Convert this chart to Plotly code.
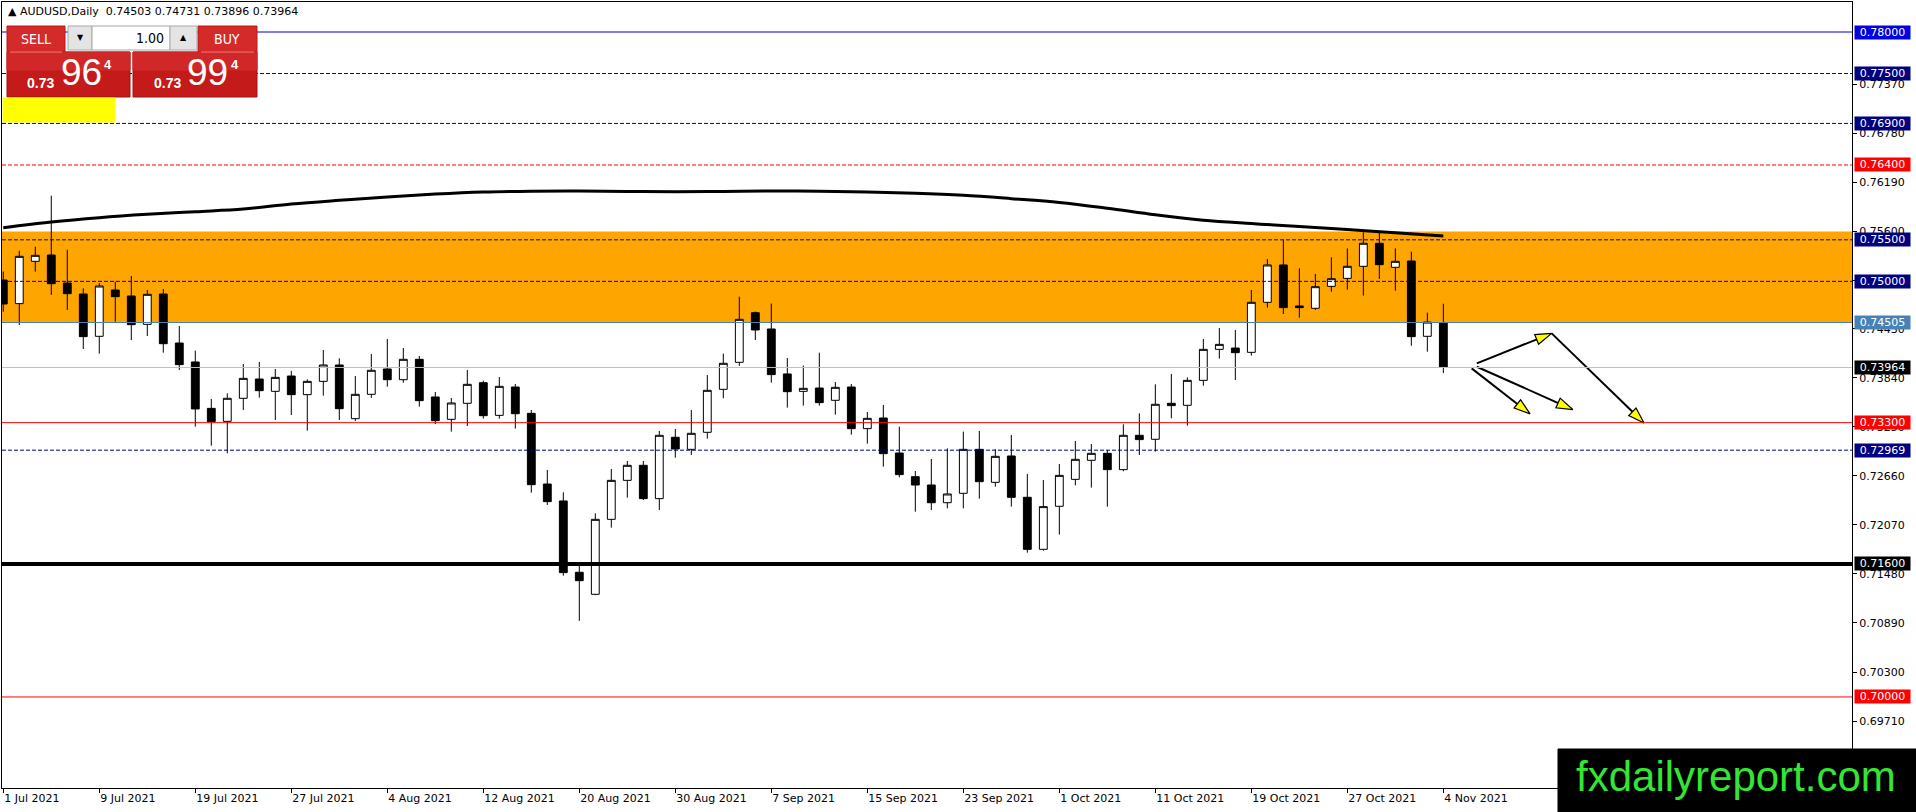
import plotly.graph_objects as go

# AUDUSD daily candles, 1 Jul 2021 .. 4 Nov 2021 (bar index 0..90)
OPEN = [0.75016, 0.74732, 0.75241, 0.75317, 0.74980, 0.74848, 0.74339, 0.74896, 0.74824, 0.74483,
        0.74848, 0.74258, 0.74030, 0.73472, 0.73316, 0.73593, 0.73825, 0.73677, 0.73861, 0.73637,
        0.73797, 0.73994, 0.73348, 0.73641, 0.73946, 0.73817, 0.74062, 0.73609, 0.73340, 0.73533,
        0.73781, 0.73388, 0.73729, 0.73412, 0.72562, 0.72358, 0.71500, 0.71235, 0.72137, 0.72606,
        0.72787, 0.72386, 0.73124, 0.72979, 0.73184, 0.73701, 0.74026, 0.74623, 0.74427, 0.73886,
        0.73677, 0.73717, 0.73569, 0.73729, 0.73228, 0.73356, 0.72935, 0.72650, 0.72550, 0.72337,
        0.72450, 0.72979, 0.72582, 0.72899, 0.72402, 0.71776, 0.72294, 0.72618, 0.72847, 0.72931,
        0.72735, 0.73148, 0.73100, 0.73533, 0.73509, 0.73809, 0.74182, 0.74198, 0.74146, 0.74748,
        0.75197, 0.74704, 0.74676, 0.74940, 0.75036, 0.75181, 0.75458, 0.75169, 0.75245, 0.74339,
        0.74503]
HIGH = [0.75117, 0.75369, 0.75417, 0.76031, 0.75381, 0.74916, 0.74980, 0.74996, 0.75065, 0.74896,
        0.74908, 0.74463, 0.74166, 0.73585, 0.73653, 0.74006, 0.74030, 0.73946, 0.73922, 0.73821,
        0.74174, 0.74074, 0.73861, 0.74126, 0.74307, 0.74198, 0.74102, 0.73669, 0.73597, 0.73934,
        0.73805, 0.73849, 0.73765, 0.73452, 0.72731, 0.72462, 0.71588, 0.72209, 0.72743, 0.72839,
        0.72839, 0.73200, 0.73224, 0.73452, 0.73873, 0.74130, 0.74816, 0.74636, 0.74732, 0.74078,
        0.73986, 0.74142, 0.73789, 0.73765, 0.73428, 0.73513, 0.73252, 0.72718, 0.72863, 0.72991,
        0.73192, 0.73200, 0.72979, 0.73152, 0.72683, 0.72610, 0.72803, 0.73080, 0.73043, 0.72971,
        0.73280, 0.73412, 0.73761, 0.73886, 0.73845, 0.74307, 0.74439, 0.74415, 0.74896, 0.75269,
        0.75506, 0.75157, 0.75089, 0.75289, 0.75397, 0.75590, 0.75590, 0.75397, 0.75357, 0.74624,
        0.74731]
LOW = [0.74635, 0.74475, 0.75117, 0.74836, 0.74656, 0.74186, 0.74130, 0.74515, 0.74295, 0.74343,
       0.74142, 0.73934, 0.73252, 0.73023, 0.72931, 0.73453, 0.73601, 0.73332, 0.73392, 0.73204,
       0.73625, 0.73332, 0.73320, 0.73597, 0.73733, 0.73781, 0.73493, 0.73284, 0.73192, 0.73260,
       0.73348, 0.73348, 0.73228, 0.72458, 0.72310, 0.71459, 0.70916, 0.71225, 0.72037, 0.72398,
       0.72370, 0.72249, 0.72879, 0.72911, 0.73108, 0.73593, 0.73982, 0.74295, 0.73781, 0.73481,
       0.73505, 0.73505, 0.73396, 0.73156, 0.73048, 0.72771, 0.72642, 0.72229, 0.72249, 0.72269,
       0.72269, 0.72386, 0.72530, 0.72290, 0.71736, 0.71760, 0.71953, 0.72546, 0.72518, 0.72290,
       0.72715, 0.72911, 0.72951, 0.73352, 0.73264, 0.73745, 0.74070, 0.73813, 0.74106, 0.74684,
       0.74607, 0.74563, 0.74656, 0.74876, 0.74900, 0.74828, 0.75028, 0.74888, 0.74226, 0.74154,
       0.73896]
CLOSE = [0.74728, 0.75301, 0.75313, 0.74972, 0.74852, 0.74335, 0.74944, 0.74816, 0.74479, 0.74844,
         0.74250, 0.73998, 0.73465, 0.73312, 0.73593, 0.73833, 0.73685, 0.73845, 0.73637, 0.73797,
         0.73994, 0.73468, 0.73641, 0.73930, 0.73817, 0.74062, 0.73565, 0.73324, 0.73537, 0.73761,
         0.73384, 0.73737, 0.73408, 0.72554, 0.72350, 0.71496, 0.71399, 0.72137, 0.72606, 0.72787,
         0.72386, 0.73148, 0.72983, 0.73172, 0.73689, 0.74014, 0.74543, 0.74415, 0.73878, 0.73673,
         0.73713, 0.73541, 0.73725, 0.73228, 0.73352, 0.72927, 0.72675, 0.72550, 0.72337, 0.72442,
         0.72979, 0.72590, 0.72895, 0.72402, 0.71776, 0.72290, 0.72666, 0.72859, 0.72931, 0.72735,
         0.73148, 0.73096, 0.73521, 0.73505, 0.73809, 0.74182, 0.74242, 0.74142, 0.74748, 0.75197,
         0.74684, 0.74684, 0.74936, 0.75032, 0.75181, 0.75458, 0.75201, 0.75241, 0.74335, 0.74510,
         0.73964]

TICK_LABELS = ["1 Jul 2021", "9 Jul 2021", "19 Jul 2021", "27 Jul 2021", "4 Aug 2021",
               "12 Aug 2021", "20 Aug 2021", "30 Aug 2021", "7 Sep 2021", "15 Sep 2021",
               "23 Sep 2021", "1 Oct 2021", "11 Oct 2021", "19 Oct 2021", "27 Oct 2021",
               "4 Nov 2021"]
TICK_STEP = 6

# moving average read every 3 bars
MA_BARS = list(range(0, 91, 3))
MA_VALUES = [0.75646, 0.75714, 0.75766, 0.75806, 0.75838, 0.75870, 0.75930, 0.75975, 0.76015, 0.76050,
             0.76075, 0.76085, 0.76087, 0.76082, 0.76078, 0.76082, 0.76087, 0.76083, 0.76075, 0.76060,
             0.76035, 0.75995, 0.75950, 0.75880, 0.75800, 0.75735, 0.75695, 0.75660, 0.75625, 0.75585,
             0.75546]

PRICE_TICKS = [0.7737, 0.7678, 0.7619, 0.7560, 0.7501, 0.7443, 0.7384, 0.7325,
               0.7266, 0.7207, 0.7148, 0.7089, 0.7030, 0.6971]

ZONE_LOW = 0.74505
ZONE_HIGH = 0.75600

LEVELS = [0.78000, 0.77500, 0.76900, 0.76400, 0.75500, 0.75000, 0.74505,
          0.73964, 0.73300, 0.72969, 0.71600, 0.70000]

# trend arrows (bar index, price)
ARROW_X0 = [92.09, 96.77, 91.77, 92.09]
ARROW_Y0 = [0.74013, 0.74374, 0.73953, 0.73973]
ARROW_X1 = [96.77, 102.54, 95.42, 98.09]
ARROW_Y1 = [0.74374, 0.73296, 0.73406, 0.73458]

QUOTE = ["0.74503", "0.74731", "0.73896", "0.73964"]
BID = "0.73964"
ASK = "0.73994"
LOT = "1.00"

# ---- styling ----
W, H = 1916, 812
PL, PR, PT, PB = 2, 1852, 2, 788
FONT = "DejaVu Sans"

# line style per level: colour, dash, width, label background
LEVEL_STYLE = [
    ("#0000CD", "solid", 1, "#0000E0"),
    ("#000080", "4px,2px", 1, "#000080"),
    ("#000080", "4px,2px", 1, "#000080"),
    ("#FF0000", "4px,2px", 1, "#FF0000"),
    ("#000080", "4px,2px", 1, "#000080"),
    ("#000080", "4px,2px", 1, "#000080"),
    ("#4682B4", "solid", 1, "#4682B4"),
    ("#C0C0C0", "solid", 1, "#000000"),
    ("#FF0000", "solid", 1, "#FF0000"),
    ("#000080", "4px,2px", 1, "#000080"),
    ("#000000", "solid", 4, "#000000"),
    ("#FF0000", "solid", 1, "#FF0000"),
]


def px(x):
    return (x - PL) / (PR - PL)


def py(y):
    return (PB - y) / (PB - PT)


bars = list(range(len(OPEN)))

fig = go.Figure()

fig.add_trace(go.Candlestick(
    x=bars, open=OPEN, high=HIGH, low=LOW, close=CLOSE,
    increasing=dict(fillcolor="white", line=dict(color="black", width=1)),
    decreasing=dict(fillcolor="black", line=dict(color="black", width=1)),
    whiskerwidth=0, showlegend=False, hoverinfo="skip"))

fig.add_trace(go.Scatter(
    x=MA_BARS, y=MA_VALUES, mode="lines", line=dict(color="black", width=3, shape="spline"),
    showlegend=False, hoverinfo="skip"))

for x0, y0, x1, y1 in zip(ARROW_X0, ARROW_Y0, ARROW_X1, ARROW_Y1):
    fig.add_trace(go.Scatter(
        x=[x0, x1], y=[y0, y1], mode="lines+markers",
        line=dict(color="black", width=2),
        marker=dict(symbol="arrow", size=[1, 17], opacity=[0, 1], angleref="previous",
                    color="#FFFF00", line=dict(color="black", width=1.2)),
        showlegend=False, hoverinfo="skip"))

shapes = []
annotations = []

shapes.append(dict(type="rect", xref="paper", yref="y", x0=0, x1=1, y0=ZONE_LOW, y1=ZONE_HIGH,
                   fillcolor="#FFA500", line=dict(width=0), layer="below"))

for lvl, (col, dash, lw, bg) in zip(LEVELS, LEVEL_STYLE):
    shapes.append(dict(type="line", xref="paper", yref="y", x0=0, x1=1, y0=lvl, y1=lvl,
                       line=dict(color=col, width=lw, dash=dash), layer="above"))
    annotations.append(dict(xref="paper", yref="y", x=1, y=lvl, xanchor="left", yanchor="middle",
                            xshift=2, text=f"{lvl:.5f}", showarrow=False, bgcolor=bg,
                            borderpad=0, width=55,
                            font=dict(family=FONT, size=11, color="white")))


def box(x0, y0, x1, y1, fill, line=None):
    shapes.append(dict(type="rect", xref="paper", yref="paper",
                       x0=px(x0), x1=px(x1), y0=py(y1), y1=py(y0), fillcolor=fill,
                       line=dict(color=line or fill, width=1), layer="above"))


def label(x, y, text, size, color, family=FONT, anchor="center"):
    annotations.append(dict(xref="paper", yref="paper", x=px(x), y=py(y), text=text,
                            xanchor=anchor, yanchor="middle", showarrow=False,
                            font=dict(family=family, size=size, color=color)))


# one click trading panel
box(7, 26, 65, 52, "#D42A2A", "#B81818")
box(198, 26, 257, 52, "#D42A2A", "#B81818")
box(68, 26, 92, 50, "#E4E4E4", "#A8A8A8")
box(92, 26, 170, 50, "#FFFFFF", "#A8A8A8")
box(170, 26, 197, 50, "#E4E4E4", "#A8A8A8")
box(7, 52, 130, 97, "#C41A1A", "#A01010")
box(133, 52, 257, 97, "#C41A1A", "#A01010")
box(7, 52, 130, 70, "#D02828")
box(133, 52, 257, 70, "#D02828")
shapes.append(dict(type="line", xref="paper", yref="paper", x0=px(10), x1=px(62), y0=py(52), y1=py(52),
                   line=dict(color="#F08080", width=1), layer="above"))
shapes.append(dict(type="line", xref="paper", yref="paper", x0=px(201), x1=px(254), y0=py(52), y1=py(52),
                   line=dict(color="#F08080", width=1), layer="above"))
box(3, 98, 115, 122, "#FFFF00")

label(36, 39, "SELL", 14, "white", "DejaVu Sans Condensed, DejaVu Sans")
label(227, 39, "BUY", 14, "white", "DejaVu Sans Condensed, DejaVu Sans")
label(80, 38, "▼", 8, "black")
label(183, 38, "▲", 8, "black")
label(166, 38, LOT, 14, "black", "DejaVu Sans Condensed, DejaVu Sans", anchor="right")

for (x_big, x_small, x_sup), price in (((81, 40, 108), BID), ((207, 167, 235), ASK)):
    label(x_small, 83, f"<b>{price[:4]}</b>", 14, "white", "Liberation Sans")
    label(x_big, 73, price[4:6], 37, "white", "Liberation Sans")
    label(x_sup, 65, f"<b>{price[6]}</b>", 13, "white", "Liberation Sans")

label(6, 12, "▲ AUDUSD,Daily  " + " ".join(QUOTE), 11, "black", anchor="left")

# watermark
box(1558, 749, 1917, 813, "#000000")
label(1736, 776, "fxdailyreport.com", 42, "#33E633", "Liberation Sans")

fig.update_layout(
    width=W, height=H,
    margin=dict(l=PL, r=W - PR, t=PT, b=H - PB),
    plot_bgcolor="white", paper_bgcolor="white",
    shapes=shapes, annotations=annotations,
    showlegend=False,
    xaxis=dict(range=[-0.08, 115.54], tickvals=bars[::TICK_STEP], ticktext=TICK_LABELS,
               ticks="outside", ticklen=4, tickcolor="black", ticklabelposition="outside right",
               showgrid=False, zeroline=False, showline=True, mirror=True, linecolor="black",
               tickfont=dict(family=FONT, size=11, color="black"),
               rangeslider=dict(visible=False)),
    yaxis=dict(range=[0.689047, 0.783609], side="right", tickvals=PRICE_TICKS,
               ticktext=[f"{t:.5f}" for t in PRICE_TICKS],
               ticks="outside", ticklen=4, tickcolor="black",
               showgrid=False, zeroline=False, showline=True, mirror=True, linecolor="black",
               tickfont=dict(family=FONT, size=11, color="black")),
)

# page body has a default 8px margin; drop it so the figure sits at the window corner
fig.write_html("out.html", config={"displayModeBar": False},
               post_script="document.body.style.margin='0';")
